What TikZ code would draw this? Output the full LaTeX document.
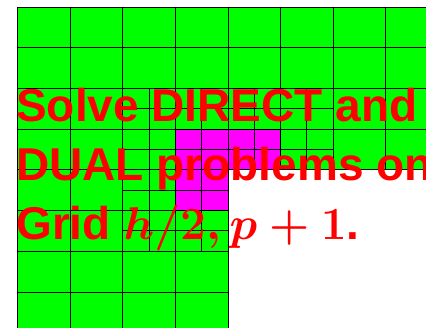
\RequirePackage{fix-cm}
\documentclass[tikz,border=0pt]{standalone}
\usepackage{fontspec}
\setsansfont{Liberation Sans}
\usetikzlibrary{positioning}

\definecolor{meshgreen}{rgb}{0,1,0}
\definecolor{meshmagenta}{rgb}{1,0,1}
\definecolor{slidered}{rgb}{1,0,0}

\begin{document}
\begin{tikzpicture}[
  x=52.6pt, y=-40.7pt,
  gridline/.style={draw=black, line width=0.8pt},
  coarsecell/.style={fill=meshgreen},
  markedcell/.style={fill=meshmagenta},
  slidetext/.style={text=slidered, font=\sffamily\bfseries\fontsize{46}{55}\selectfont\boldmath, inner sep=0pt, anchor=base west}
]

\useasboundingbox (-17.5pt,7pt) rectangle (408.5pt,-320pt);

\begin{scope}
  \clip (-17.5pt,7pt) rectangle (408.5pt,-320pt);

  % L-shaped domain
  \fill[coarsecell] (0,0) -- (8,0) -- (8,4) -- (4,4) -- (4,8) -- (0,8) -- cycle;
  % cells marked for refinement
  \fill[markedcell] (3,3) -- (5,3) -- (5,4) -- (4,4) -- (4,5) -- (3,5) -- cycle;

  % Coarse grid h
  \foreach \i in {0,...,8} \draw[gridline] (\i,0) -- (\i,4);
  \foreach \i in {0,...,4} \draw[gridline] (\i,4) -- (\i,8);
  \foreach \j in {0,...,4} \draw[gridline] (0,\j) -- (8,\j);
  \foreach \j in {5,...,8} \draw[gridline] (0,\j) -- (4,\j);

  % Refined cells h/2
  \foreach \c/\r in {2/2,3/2,4/2,5/2,2/3,3/3,4/3,5/3,2/4,3/4,2/5,3/5}
    \draw[gridline] (\c+0.5,\r) -- (\c+0.5,\r+1) (\c,\r+0.5) -- (\c+1,\r+0.5);
\end{scope}

% Text
\node[slidetext] (line1) at (-1.4pt,-114.7pt) {Solve DIRECT and};
\node[slidetext] (line2) at ([yshift=-58.7pt]line1.base west) {DUAL problems on};
\node[slidetext] (line3) at ([yshift=-58.7pt]line2.base west) {Grid $h/2, p+1$.};

\end{tikzpicture}
\end{document}
